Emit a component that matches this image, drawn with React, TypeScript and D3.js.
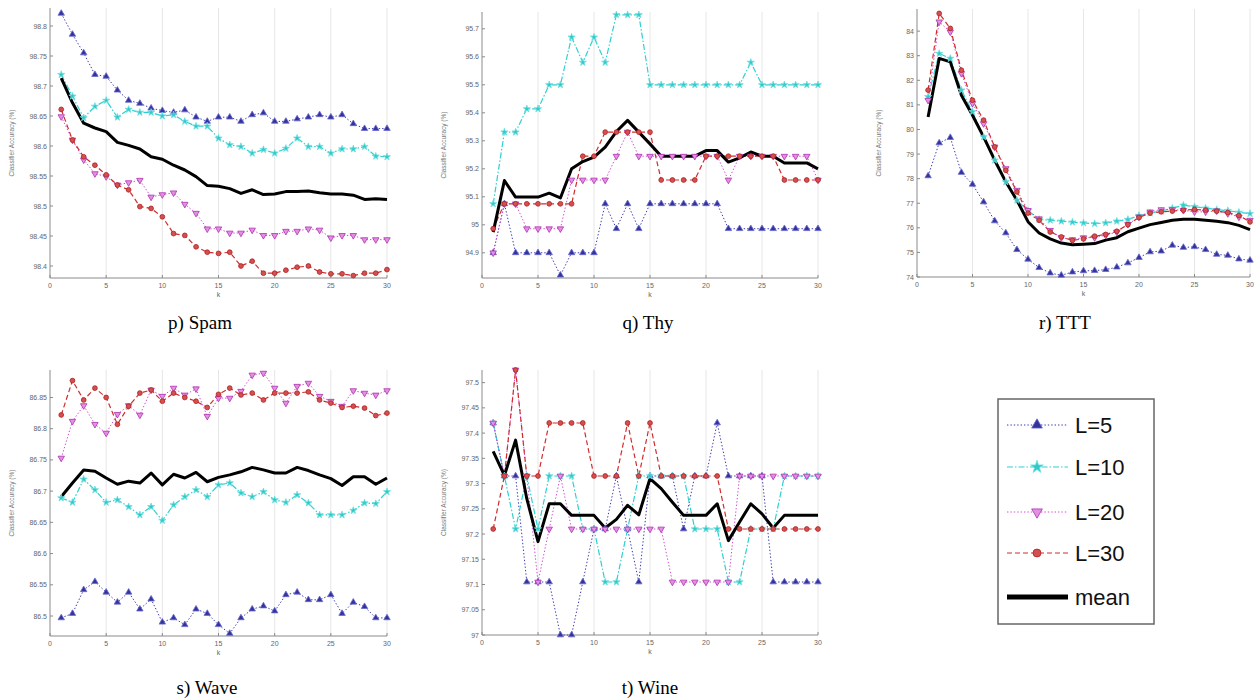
import React from "react";
import * as d3 from "d3";

// ---------- shared axis data ----------
const kValues = [1, 2, 3, 4, 5, 6, 7, 8, 9, 10, 11, 12, 13, 14, 15, 16, 17, 18, 19, 20, 21, 22, 23, 24, 25, 26, 27, 28, 29, 30];
const xTicks = [0, 5, 10, 15, 20, 25, 30];
const legendLabels = ["L=5", "L=10", "L=20", "L=30", "mean"];

// ---------- p) Spam ----------
const spamTicks = [98.4, 98.45, 98.5, 98.55, 98.6, 98.65, 98.7, 98.75, 98.8];
const spamTickLabels = ["98.4", "98.45", "98.5", "98.55", "98.6", "98.65", "98.7", "98.75", "98.8"];
const spamL5 = [98.821, 98.786, 98.755, 98.719, 98.716, 98.693, 98.676, 98.671, 98.663, 98.659, 98.656, 98.66, 98.648, 98.641, 98.648, 98.648, 98.641, 98.652, 98.655, 98.641, 98.641, 98.645, 98.648, 98.652, 98.648, 98.652, 98.637, 98.629, 98.629, 98.629];
const spamL10 = [98.719, 98.683, 98.647, 98.666, 98.676, 98.648, 98.661, 98.656, 98.656, 98.65, 98.652, 98.641, 98.633, 98.633, 98.613, 98.602, 98.599, 98.588, 98.594, 98.588, 98.596, 98.613, 98.599, 98.599, 98.588, 98.595, 98.595, 98.599, 98.583, 98.582];
const spamL20 = [98.649, 98.61, 98.577, 98.554, 98.549, 98.535, 98.539, 98.543, 98.515, 98.519, 98.522, 98.503, 98.488, 98.462, 98.462, 98.455, 98.455, 98.46, 98.451, 98.451, 98.458, 98.458, 98.462, 98.46, 98.447, 98.451, 98.451, 98.444, 98.444, 98.444];
const spamL30 = [98.661, 98.61, 98.582, 98.568, 98.552, 98.535, 98.527, 98.499, 98.496, 98.482, 98.454, 98.451, 98.432, 98.423, 98.421, 98.423, 98.4, 98.408, 98.388, 98.388, 98.393, 98.398, 98.4, 98.39, 98.387, 98.387, 98.384, 98.388, 98.388, 98.394];
const spamMean = [98.713, 98.672, 98.638, 98.63, 98.624, 98.606, 98.601, 98.595, 98.582, 98.578, 98.568, 98.56, 98.549, 98.534, 98.533, 98.529, 98.521, 98.527, 98.519, 98.52, 98.524, 98.524, 98.525, 98.522, 98.52, 98.52, 98.518, 98.511, 98.512, 98.511];

// ---------- q) Thy ----------
const thyTicks = [94.9, 95, 95.1, 95.2, 95.3, 95.4, 95.5, 95.6, 95.7];
const thyTickLabels = ["94.9", "95", "95.1", "95.2", "95.3", "95.4", "95.5", "95.6", "95.7"];
const thyL5 = [94.9, 95.075, 94.9, 94.9, 94.9, 94.9, 94.82, 94.9, 94.9, 94.9, 95.075, 94.986, 95.075, 94.986, 95.075, 95.075, 95.075, 95.075, 95.075, 95.075, 95.075, 94.986, 94.986, 94.986, 94.986, 94.986, 94.986, 94.986, 94.986, 94.986];
const thyL10 = [95.075, 95.331, 95.331, 95.414, 95.414, 95.5, 95.5, 95.67, 95.58, 95.67, 95.58, 95.75, 95.75, 95.75, 95.5, 95.5, 95.5, 95.5, 95.5, 95.5, 95.5, 95.5, 95.5, 95.58, 95.5, 95.5, 95.5, 95.5, 95.5, 95.5];
const thyL20 = [94.9, 95.075, 95.075, 94.986, 94.986, 94.986, 94.986, 95.16, 95.16, 95.16, 95.16, 95.245, 95.331, 95.245, 95.245, 95.245, 95.245, 95.245, 95.245, 95.245, 95.245, 95.16, 95.245, 95.245, 95.245, 95.245, 95.245, 95.245, 95.245, 95.16];
const thyL30 = [94.986, 95.075, 95.075, 95.075, 95.075, 95.075, 95.075, 95.075, 95.245, 95.245, 95.331, 95.331, 95.331, 95.331, 95.331, 95.16, 95.16, 95.16, 95.16, 95.245, 95.245, 95.245, 95.245, 95.245, 95.245, 95.245, 95.16, 95.16, 95.16, 95.16];
const thyMean = [94.974, 95.158, 95.099, 95.099, 95.099, 95.113, 95.096, 95.2, 95.226, 95.242, 95.277, 95.333, 95.373, 95.331, 95.289, 95.245, 95.245, 95.245, 95.245, 95.265, 95.265, 95.224, 95.239, 95.26, 95.245, 95.245, 95.221, 95.221, 95.221, 95.2];

// ---------- r) TTT ----------
const tttTicks = [74, 75, 76, 77, 78, 79, 80, 81, 82, 83, 84];
const tttTickLabels = ["74", "75", "76", "77", "78", "79", "80", "81", "82", "83", "84"];
const tttL5 = [78.11, 79.45, 79.67, 78.25, 77.77, 77.05, 76.28, 75.79, 75.11, 74.72, 74.38, 74.16, 74.07, 74.2, 74.25, 74.26, 74.3, 74.4, 74.57, 74.79, 75.02, 75.05, 75.29, 75.2, 75.23, 75.11, 74.92, 74.88, 74.73, 74.68];
const tttL10 = [81.33, 83.09, 82.89, 81.6, 80.72, 79.7, 78.75, 77.87, 77.12, 76.7, 76.34, 76.31, 76.27, 76.23, 76.2, 76.17, 76.2, 76.27, 76.34, 76.5, 76.6, 76.68, 76.8, 76.92, 76.86, 76.8, 76.74, 76.7, 76.63, 76.58];
const tttL20 = [81.19, 84.38, 83.97, 82.28, 81.06, 80.24, 79.29, 78.41, 77.53, 76.71, 76.37, 75.9, 75.6, 75.52, 75.6, 75.6, 75.7, 75.83, 76.14, 76.44, 76.65, 76.74, 76.74, 76.71, 76.65, 76.65, 76.69, 76.58, 76.44, 76.31];
const tttL30 = [81.6, 84.72, 84.11, 82.41, 81.19, 80.38, 79.29, 78.34, 77.46, 76.6, 76.31, 75.83, 75.63, 75.49, 75.55, 75.66, 75.73, 75.86, 76.13, 76.42, 76.6, 76.65, 76.68, 76.72, 76.75, 76.72, 76.68, 76.62, 76.5, 76.24];
const tttMean = [80.51, 82.89, 82.75, 81.39, 80.58, 79.7, 78.75, 77.87, 77.12, 76.25, 75.79, 75.55, 75.38, 75.31, 75.33, 75.36, 75.5, 75.6, 75.84, 75.99, 76.13, 76.22, 76.31, 76.35, 76.35, 76.31, 76.27, 76.21, 76.1, 75.93];

// ---------- s) Wave ----------
const waveTicks = [86.5, 86.55, 86.6, 86.65, 86.7, 86.75, 86.8, 86.85];
const waveTickLabels = ["86.5", "86.55", "86.6", "86.65", "86.7", "86.75", "86.8", "86.85"];
const waveL5 = [86.497, 86.504, 86.542, 86.555, 86.538, 86.522, 86.538, 86.511, 86.527, 86.49, 86.497, 86.486, 86.511, 86.504, 86.486, 86.472, 86.497, 86.511, 86.516, 86.508, 86.534, 86.538, 86.526, 86.526, 86.534, 86.504, 86.522, 86.515, 86.497, 86.497];
const waveL10 = [86.689, 86.682, 86.719, 86.702, 86.682, 86.686, 86.675, 86.662, 86.675, 86.653, 86.678, 86.691, 86.702, 86.691, 86.71, 86.713, 86.697, 86.691, 86.699, 86.686, 86.682, 86.694, 86.681, 86.662, 86.662, 86.662, 86.669, 86.681, 86.68, 86.699];
const waveL20 = [86.753, 86.812, 86.837, 86.807, 86.793, 86.823, 86.837, 86.822, 86.862, 86.852, 86.865, 86.854, 86.864, 86.82, 86.849, 86.849, 86.86, 86.886, 86.889, 86.865, 86.841, 86.868, 86.873, 86.852, 86.844, 86.836, 86.861, 86.857, 86.854, 86.861];
const waveL30 = [86.822, 86.877, 86.846, 86.865, 86.85, 86.807, 86.836, 86.857, 86.862, 86.844, 86.857, 86.85, 86.844, 86.834, 86.855, 86.865, 86.854, 86.857, 86.846, 86.857, 86.857, 86.857, 86.859, 86.846, 86.841, 86.834, 86.836, 86.833, 86.821, 86.825];
const waveMean = [86.691, 86.713, 86.734, 86.732, 86.721, 86.711, 86.716, 86.713, 86.729, 86.71, 86.727, 86.721, 86.73, 86.715, 86.722, 86.726, 86.731, 86.738, 86.734, 86.729, 86.729, 86.738, 86.733, 86.726, 86.72, 86.709, 86.723, 86.723, 86.711, 86.721];

// ---------- t) Wine ----------
const wineTicks = [97, 97.05, 97.1, 97.15, 97.2, 97.25, 97.3, 97.35, 97.4, 97.45, 97.5];
const wineTickLabels = ["97", "97.05", "97.1", "97.15", "97.2", "97.25", "97.3", "97.35", "97.4", "97.45", "97.5"];
const wineL5 = [97.42, 97.315, 97.315, 97.105, 97.105, 97.105, 97.0, 97.0, 97.105, 97.21, 97.21, 97.315, 97.21, 97.105, 97.315, 97.315, 97.315, 97.21, 97.315, 97.315, 97.42, 97.315, 97.315, 97.315, 97.315, 97.105, 97.105, 97.105, 97.105, 97.105];
const wineL10 = [97.42, 97.315, 97.21, 97.315, 97.21, 97.315, 97.315, 97.315, 97.21, 97.21, 97.105, 97.105, 97.21, 97.315, 97.315, 97.315, 97.315, 97.315, 97.21, 97.21, 97.21, 97.105, 97.105, 97.21, 97.21, 97.21, 97.315, 97.315, 97.315, 97.315];
const wineL20 = [97.42, 97.315, 97.525, 97.315, 97.105, 97.21, 97.315, 97.21, 97.21, 97.21, 97.21, 97.21, 97.21, 97.21, 97.21, 97.21, 97.105, 97.105, 97.105, 97.105, 97.105, 97.105, 97.315, 97.315, 97.315, 97.315, 97.315, 97.315, 97.315, 97.315];
const wineL30 = [97.21, 97.315, 97.525, 97.315, 97.315, 97.42, 97.42, 97.42, 97.42, 97.315, 97.315, 97.315, 97.42, 97.315, 97.42, 97.315, 97.315, 97.315, 97.315, 97.315, 97.315, 97.21, 97.21, 97.21, 97.21, 97.21, 97.21, 97.21, 97.21, 97.21];
const wineMean = [97.364, 97.316, 97.386, 97.27, 97.185, 97.26, 97.26, 97.237, 97.237, 97.237, 97.212, 97.229, 97.257, 97.238, 97.31, 97.29, 97.263, 97.237, 97.237, 97.237, 97.26, 97.187, 97.224, 97.26, 97.24, 97.212, 97.237, 97.237, 97.237, 97.237];

// ---------- styling ----------
type StyleKey = "L5" | "L10" | "L20" | "L30" | "mean";
const styles: Record<StyleKey, { stroke: string; width: number; dash: string; marker: string | null; fill: string; mstroke: string }> = {
  L5: { stroke: "#3b3bb0", width: 1, dash: "1.4 2", marker: "triUp", fill: "#33339a", mstroke: "#6a6ad0" },
  L10: { stroke: "#2fd0d0", width: 1.2, dash: "6 2 1.5 2", marker: "star", fill: "#30c8c8", mstroke: "#70e0e0" },
  L20: { stroke: "#d24cd2", width: 1, dash: "1.4 2", marker: "triDown", fill: "#e290e2", mstroke: "#b030b0" },
  L30: { stroke: "#d12c2c", width: 1.2, dash: "5 3", marker: "circle", fill: "#d45050", mstroke: "#b02020" },
  mean: { stroke: "#000000", width: 3, dash: "", marker: null, fill: "none", mstroke: "none" },
};

const FONT = "'Liberation Sans', Arial, sans-serif";
const SERIF = "'Liberation Serif', 'Times New Roman', serif";

function markerPath(kind: string, size: number): string {
  const type =
    kind === "star" ? d3.symbolStar : kind === "circle" ? d3.symbolCircle : d3.symbolTriangle;
  return d3.symbol().type(type).size(size)() || "";
}

function Marker({ kind, x, y, size, fill, stroke }: { kind: string; x: number; y: number; size: number; fill: string; stroke: string }) {
  const rot = kind === "triDown" ? 180 : 0;
  return (
    <path
      d={markerPath(kind, size)}
      transform={`translate(${x},${y}) rotate(${rot})`}
      fill={fill}
      stroke={stroke}
      strokeWidth={0.8}
    />
  );
}

type PanelProps = {
  title: string;
  titleX: number;
  titleY: number;
  xRange: [number, number];
  yRange: [number, number];
  yDomain: [number, number];
  ticks: number[];
  tickLabels: string[];
  series: { key: StyleKey; values: number[] }[];
};

function Panel({ title, titleX, titleY, xRange, yRange, yDomain, ticks, tickLabels, series }: PanelProps) {
  const x = d3.scaleLinear().domain([0, 30]).range(xRange);
  const y = d3.scaleLinear().domain(yDomain).range(yRange);
  const line = d3
    .line<number>()
    .x((_, i) => x(kValues[i]))
    .y((v) => y(v));
  const [yBottom, yTop] = yRange;
  const left = xRange[0];
  return (
    <g>
      {/* vertical grid */}
      {xTicks.slice(1).map((t) => (
        <line key={"g" + t} x1={x(t)} x2={x(t)} y1={yBottom} y2={yTop} stroke="#e6e6e6" strokeWidth={1} />
      ))}
      {/* axes */}
      <line x1={left} x2={left} y1={yBottom} y2={yTop} stroke="#8a8a8a" strokeWidth={1} />
      <line x1={left} x2={x(30)} y1={yBottom} y2={yBottom} stroke="#8a8a8a" strokeWidth={1} />
      {ticks.map((t, i) => (
        <g key={"yt" + t}>
          <line x1={left} x2={left + 3} y1={y(t)} y2={y(t)} stroke="#8a8a8a" />
          <text x={left - 3} y={y(t) + 2.5} fontSize={7} fill="#666" textAnchor="end" fontFamily={FONT}>
            {tickLabels[i]}
          </text>
        </g>
      ))}
      {xTicks.map((t) => (
        <g key={"xt" + t}>
          <line x1={x(t)} x2={x(t)} y1={yBottom} y2={yBottom - 3} stroke="#8a8a8a" />
          <text x={x(t)} y={yBottom + 10} fontSize={7} fill="#666" textAnchor="middle" fontFamily={FONT}>
            {t}
          </text>
        </g>
      ))}
      <text x={(xRange[0] + xRange[1]) / 2} y={yBottom + 19} fontSize={7} fill="#666" textAnchor="middle" fontFamily={FONT}>
        k
      </text>
      <text
        transform={`translate(${left - 36},${(yBottom + yTop) / 2}) rotate(-90)`}
        fontSize={6.5}
        fill="#777"
        textAnchor="middle"
        fontFamily={FONT}
      >
        Classifier Accuracy (%)
      </text>
      {/* series lines */}
      {series.map((s) => {
        const st = styles[s.key];
        return (
          <path
            key={"l" + s.key}
            d={line(s.values) || ""}
            fill="none"
            stroke={st.stroke}
            strokeWidth={st.width}
            strokeDasharray={st.dash || undefined}
            strokeLinejoin="round"
          />
        );
      })}
      {/* markers */}
      {series.map((s) => {
        const st = styles[s.key];
        if (!st.marker) return null;
        return (
          <g key={"m" + s.key}>
            {s.values.map((v, i) => (
              <Marker key={i} kind={st.marker as string} x={x(kValues[i])} y={y(v)} size={st.marker === "star" ? 16 : 18} fill={st.fill} stroke={st.mstroke} />
            ))}
          </g>
        );
      })}
      <text x={titleX} y={titleY} fontSize={19} fill="#000" textAnchor="middle" fontFamily={SERIF}>
        {title}
      </text>
    </g>
  );
}

function Legend() {
  const keys: StyleKey[] = ["L5", "L10", "L20", "L30", "mean"];
  const rows = [425, 467, 512, 553, 597];
  return (
    <g>
      <rect x={998} y={399} width={156} height={225} fill="#fff" stroke="#666" strokeWidth={1.5} />
      {keys.map((k, i) => {
        const st = styles[k];
        const yy = rows[i];
        return (
          <g key={k}>
            <line
              x1={1007}
              x2={1068}
              y1={yy}
              y2={yy}
              stroke={st.stroke}
              strokeWidth={k === "mean" ? 5 : st.width}
              strokeDasharray={st.dash || undefined}
            />
            {st.marker && <Marker kind={st.marker} x={1037} y={yy} size={50} fill={st.fill} stroke={st.mstroke} />}
            <text x={1075} y={yy + 8} fontSize={22} fill="#111" fontFamily={FONT}>
              {legendLabels[i]}
            </text>
          </g>
        );
      })}
    </g>
  );
}

export default function App() {
  return (
    <svg width={1260} height={700} style={{ position: "absolute", left: 0, top: 0, background: "#fff" }}>
      <rect x={0} y={0} width={1260} height={700} fill="#fff" />
      <Panel
        title="p) Spam"
        titleX={200}
        titleY={329}
        xRange={[50, 387]}
        yRange={[278, 8]}
        yDomain={[98.38, 98.83]}
        ticks={spamTicks}
        tickLabels={spamTickLabels}
        series={[
          { key: "L5", values: spamL5 },
          { key: "L10", values: spamL10 },
          { key: "L20", values: spamL20 },
          { key: "L30", values: spamL30 },
          { key: "mean", values: spamMean },
        ]}
      />
      <Panel
        title="q) Thy"
        titleX={648}
        titleY={329}
        xRange={[482, 818]}
        yRange={[278, 12]}
        yDomain={[94.81, 95.76]}
        ticks={thyTicks}
        tickLabels={thyTickLabels}
        series={[
          { key: "L5", values: thyL5 },
          { key: "L10", values: thyL10 },
          { key: "L20", values: thyL20 },
          { key: "L30", values: thyL30 },
          { key: "mean", values: thyMean },
        ]}
      />
      <Panel
        title="r) TTT"
        titleX={1065}
        titleY={329}
        xRange={[917, 1250]}
        yRange={[277, 9]}
        yDomain={[74, 84.9]}
        ticks={tttTicks}
        tickLabels={tttTickLabels}
        series={[
          { key: "L5", values: tttL5 },
          { key: "L10", values: tttL10 },
          { key: "L20", values: tttL20 },
          { key: "L30", values: tttL30 },
          { key: "mean", values: tttMean },
        ]}
      />
      <Panel
        title="s) Wave"
        titleX={207}
        titleY={694}
        xRange={[50, 387]}
        yRange={[636, 370]}
        yDomain={[86.468, 86.894]}
        ticks={waveTicks}
        tickLabels={waveTickLabels}
        series={[
          { key: "L5", values: waveL5 },
          { key: "L10", values: waveL10 },
          { key: "L20", values: waveL20 },
          { key: "L30", values: waveL30 },
          { key: "mean", values: waveMean },
        ]}
      />
      <Panel
        title="t) Wine"
        titleX={650}
        titleY={694}
        xRange={[482, 818]}
        yRange={[635, 370]}
        yDomain={[97, 97.525]}
        ticks={wineTicks}
        tickLabels={wineTickLabels}
        series={[
          { key: "L5", values: wineL5 },
          { key: "L10", values: wineL10 },
          { key: "L20", values: wineL20 },
          { key: "L30", values: wineL30 },
          { key: "mean", values: wineMean },
        ]}
      />
      <Legend />
    </svg>
  );
}
